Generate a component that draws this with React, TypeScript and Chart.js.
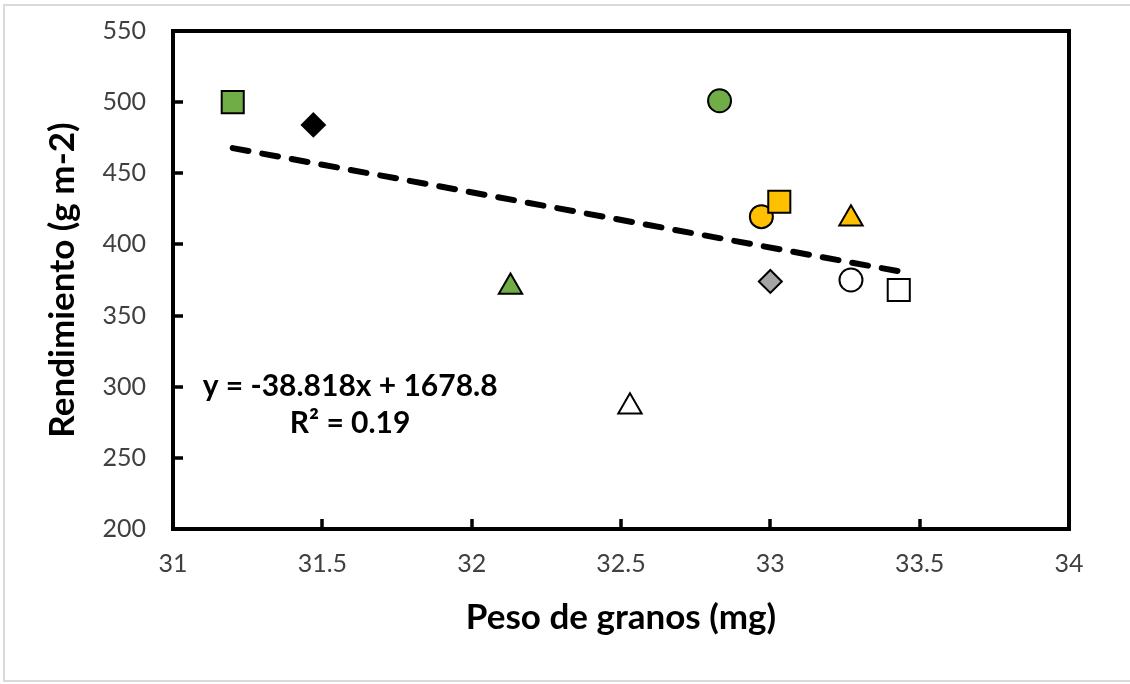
import React, { useEffect, useRef } from 'react';
import { Chart, registerables } from 'chart.js';

Chart.register(...registerables);

// ---- data ----
const xValues = [31.2, 31.47, 32.83, 32.13, 32.53, 32.97, 33.03, 33.27, 33.0, 33.27, 33.43];
const yValues = [500, 484, 501, 370, 286, 419.5, 430, 418, 374, 375, 368];
const markerShapes = ['rect', 'rectRot', 'circle', 'triangle', 'triangle', 'circle', 'rect', 'triangle', 'rectRot', 'circle', 'rect'];
const markerColors = ['#70AD47', '#000000', '#70AD47', '#70AD47', '#FFFFFF', '#FFC000', '#FFC000', '#FFC000', '#A5A5A5', '#FFFFFF', '#FFFFFF'];
const xTicks = [31, 31.5, 32, 32.5, 33, 33.5, 34];
const yTicks = [200, 250, 300, 350, 400, 450, 500, 550];
const trendSlope = -38.818;
const trendIntercept = 1678.8;
const trendXRange = [31.2, 33.43];
const equationLines = ['y = -38.818x + 1678.8', 'R² = 0.19'];
const equationAnchorX = 31.593;
const equationAnchorY = [300, 274.5];
const xTitle = 'Peso de granos (mg)';
const yTitle = 'Rendimiento (g m-2)';

const FONT = 'Lato, "Open Sans", sans-serif';
const radiusFor: Record<string, number> = { rect: 15.6, rectRot: 11.5, circle: 11.5, triangle: 13.5 };

const framePlugin = {
  id: 'frameAndTicks',
  beforeDraw(chart: any) {
    const ctx = chart.ctx;
    ctx.save();
    ctx.strokeStyle = '#D9D9D9';
    ctx.lineWidth = 2;
    ctx.strokeRect(4, 5, chart.width + 20, chart.height - 8);
    ctx.restore();
  },
  afterDraw(chart: any) {
    const ctx = chart.ctx;
    const { left, right, top, bottom } = chart.chartArea;
    const xs = chart.scales.x;
    const ys = chart.scales.y;
    ctx.save();
    ctx.strokeStyle = '#000';
    ctx.lineWidth = 3.5;
    ctx.lineCap = 'butt';
    xTicks.slice(1, -1).forEach((v) => {
      const px = Math.round(xs.getPixelForValue(v));
      ctx.beginPath();
      ctx.moveTo(px, bottom);
      ctx.lineTo(px, bottom - 10);
      ctx.stroke();
    });
    yTicks.slice(1, -1).forEach((v) => {
      const py = Math.round(ys.getPixelForValue(v));
      ctx.beginPath();
      ctx.moveTo(left, py);
      ctx.lineTo(left + 10, py);
      ctx.stroke();
    });
    ctx.lineWidth = 4;
    ctx.strokeRect(left, top, right - left, bottom - top);
    // equation
    ctx.fillStyle = '#000';
    ctx.font = `bold 30px ${FONT}`;
    ctx.textAlign = 'center';
    ctx.textBaseline = 'middle';
    equationLines.forEach((t, i) => {
      ctx.fillText(t, xs.getPixelForValue(equationAnchorX), ys.getPixelForValue(equationAnchorY[i]));
    });
    ctx.restore();
  },
};

export default function App() {
  const ref = useRef<HTMLCanvasElement>(null);
  useEffect(() => {
    const canvas = ref.current!;
    const trendData = trendXRange.map((x) => ({ x, y: trendSlope * x + trendIntercept }));
    const chart = new Chart(canvas, {
      type: 'scatter',
      data: {
        datasets: [
          {
            type: 'line',
            data: trendData,
            borderColor: '#000',
            borderWidth: 6,
            borderDash: [16, 14],
            borderCapStyle: 'round',
            pointRadius: 0,
            fill: false,
            order: 2,
          } as any,
          {
            data: xValues.map((x, i) => ({ x, y: yValues[i] })),
            pointStyle: markerShapes as any,
            pointRadius: markerShapes.map((s) => radiusFor[s]),
            pointBackgroundColor: markerColors,
            pointBorderColor: '#000',
            pointBorderWidth: 2,
            order: 1,
          } as any,
        ],
      },
      options: {
        animation: false,
        responsive: false,
        maintainAspectRatio: false,
        layout: { padding: { left: 0, top: 31, right: 61, bottom: 0 } },
        plugins: { legend: { display: false }, tooltip: { enabled: false } },
        scales: {
          x: {
            type: 'linear',
            min: 31,
            max: 34,
            afterBuildTicks: (s: any) => { s.ticks = xTicks.map((v) => ({ value: v })); },
            afterFit: (s: any) => { s.height = 155; s.paddingLeft = 0; s.paddingRight = 0; },
            grid: { display: false, drawTicks: false },
            border: { display: false },
            ticks: { color: '#404040', font: { family: FONT, size: 25 }, padding: 20, maxRotation: 0, callback: (v: any) => String(v) },
            title: { display: true, text: xTitle, color: '#000', font: { family: FONT, size: 35, weight: 'bold' }, padding: { top: 0, bottom: 45 } },
          },
          y: {
            type: 'linear',
            min: 200,
            max: 550,
            afterBuildTicks: (s: any) => { s.ticks = yTicks.map((v) => ({ value: v })); },
            afterFit: (s: any) => { s.width = 173; s.paddingTop = 0; s.paddingBottom = 0; },
            grid: { display: false, drawTicks: false },
            border: { display: false },
            ticks: { color: '#404040', font: { family: FONT, size: 25 }, padding: 27, callback: (v: any) => String(v) },
            title: { display: true, text: yTitle, color: '#000', font: { family: FONT, size: 35, weight: 'bold' }, padding: { top: 42, bottom: 0 } },
          },
        },
      },
      plugins: [framePlugin],
    });
    return () => chart.destroy();
  }, []);
  return (
    <div style={{ position: 'fixed', left: 0, top: 0, width: 1130, height: 684, background: '#fff' }}>
      <canvas ref={ref} width={1130} height={684} style={{ width: 1130, height: 684, display: 'block' }} />
    </div>
  );
}
